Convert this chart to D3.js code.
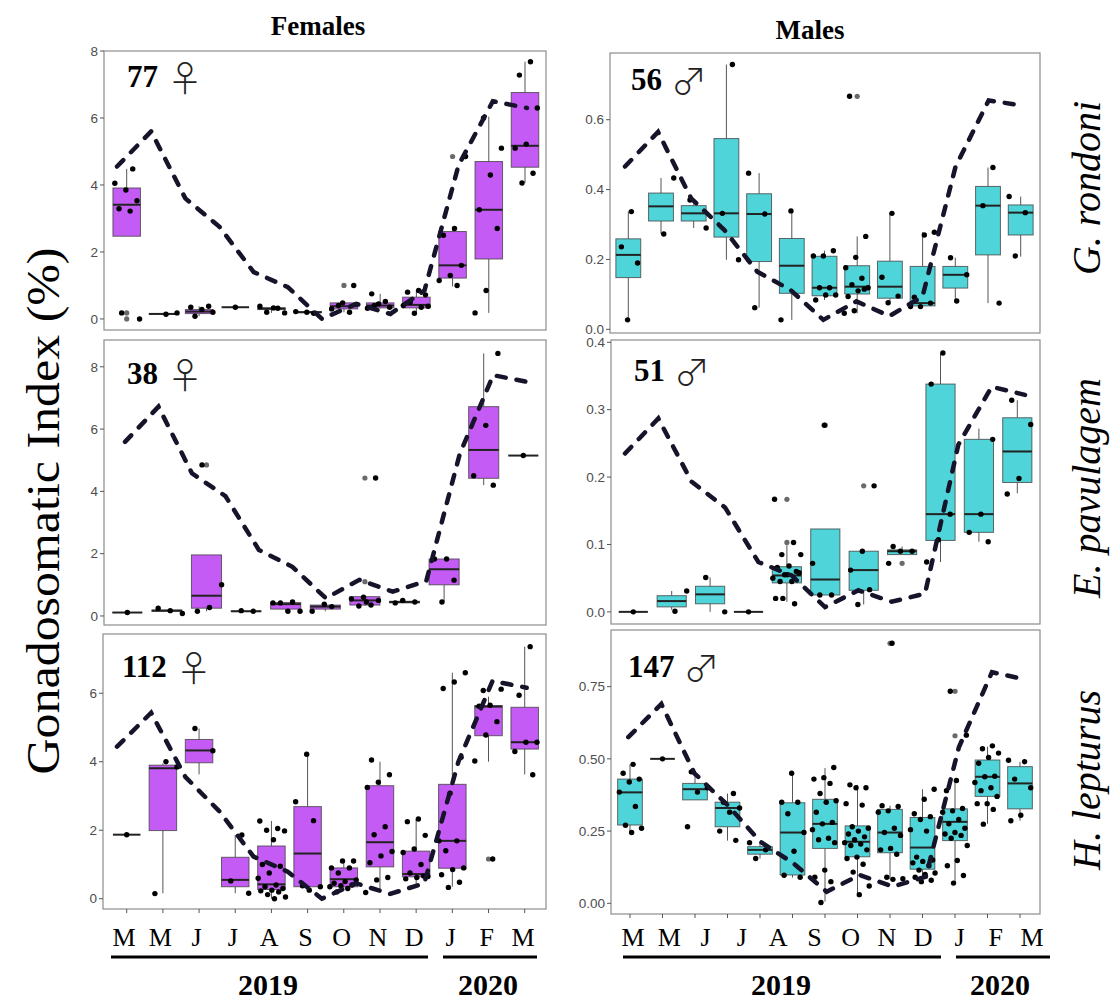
<!DOCTYPE html>
<html>
<head>
<meta charset="utf-8">
<script src="https://cdn.jsdelivr.net/npm/d3@7"></script>
<style>
  body { margin: 0; background: #fff; }
  svg { display: block; }
</style>
</head>
<body>
<svg id="chart" width="1115" height="1000"></svg>
<script>
// ---- data ----
// box stats per month: [lower whisker, q1, median, q3, upper whisker]
var grFemBox = [[2.47,2.47,3.41,3.91,4.48],[0.14,0.14,0.15,0.16,0.18],[0.08,0.16,0.22,0.28,0.38],[0.35,0.35,0.35,0.35,0.35],
  [0.18,0.28,0.31,0.33,0.38],[0.17,0.19,0.2,0.22,0.22],[0.2,0.3,0.38,0.48,0.48],[0.32,0.33,0.4,0.48,0.75],
  [0.17,0.33,0.42,0.65,0.85],[0.97,1.22,1.6,2.61,2.71],[0.18,1.79,3.26,4.7,6.04],[4.06,4.53,5.17,6.76,7.68]];
var grFemPts = [[3.22,3.29,3.53,3.85,4.05,4.48,0.18,0.0],[0.18,0.14],[0.08,0.2,0.28,0.35,0.38],[0.35],
  [0.38,0.32,0.2,0.18,0.33],[0.2,0.22,0.17],[1.0,0.48,0.3,0.2,0.4],[0.75,0.35,0.45,0.32,0.52,0.4],
  [0.85,0.8,0.72,0.17,0.4,0.35,0.5,0.38],[4.85,2.7,2.5,1.6,1.3,1.15,1.0],[6.0,5.1,4.3,3.26,2.7,0.85,0.18],
  [7.68,7.28,6.3,5.22,5.1,4.35,4.06]];
var grFemOut = [[0.18,0.0],[],[],[],[],[],[1.0],[],[],[4.85],[],[]];
var grFemLine = [4.55,5.6,3.6,2.75,1.4,0.95,0.0,0.45,0.15,0.85,4.6,6.5,6.3];

var grMalBox = [[0.027,0.148,0.213,0.259,0.337],[0.273,0.31,0.352,0.39,0.433],[0.29,0.31,0.332,0.354,0.37],
  [0.199,0.264,0.332,0.546,0.758],[0.062,0.194,0.33,0.388,0.447],[0.027,0.103,0.182,0.26,0.339],
  [0.084,0.096,0.119,0.209,0.225],[0.046,0.101,0.122,0.182,0.266],[0.076,0.089,0.122,0.195,0.332],
  [0.065,0.067,0.075,0.18,0.278],[0.081,0.118,0.156,0.18,0.205],[0.075,0.213,0.354,0.409,0.463],
  [0.208,0.27,0.334,0.356,0.38]];
var grMalPts = [[0.337,0.236,0.19,0.027],[0.433,0.273],[0.37,0.29],[0.758,0.332,0.199],[0.447,0.33,0.062],
  [0.339,0.027],[0.225,0.21,0.21,0.119,0.119,0.098,0.098,0.084],
  [0.667,0.266,0.206,0.176,0.146,0.128,0.119,0.11,0.094,0.115,0.053,0.046],[0.332,0.149,0.095,0.076],
  [0.278,0.27,0.092,0.075,0.065,0.065],[0.205,0.156,0.081],[0.463,0.354,0.075],[0.38,0.334,0.21]];
var grMalOut = [[],[],[],[],[],[],[],[0.667],[],[],[],[],[]];
var grMalLine = [0.466,0.565,0.375,0.285,0.165,0.113,0.027,0.08,0.038,0.094,0.466,0.655,0.641];

var epFemBox = [[0.11,0.11,0.11,0.11,0.11],[0.15,0.15,0.17,0.19,0.2],[0.15,0.25,0.65,1.96,1.96],[0.15,0.15,0.15,0.16,0.17],
  [0.15,0.22,0.38,0.43,0.45],[0.15,0.22,0.3,0.35,0.38],[0.32,0.35,0.5,0.62,0.62],[0.42,0.42,0.45,0.47,0.5],
  [0.45,1.0,1.5,1.83,1.83],[4.2,4.42,5.33,6.72,8.43],[5.15,5.15,5.15,5.15,5.15]];
var epFemPts = [[0.11],[0.08,0.17,0.25],[4.85,1.0,0.27,0.15],[0.15,0.17],[0.42,0.45,0.42,0.15,0.15],[0.38,0.15,0.3],
  [4.43,0.6,0.55,0.35,0.32,0.5,0.45],[0.42,0.45,0.5],[1.83,1.83,1.15,0.45],[8.43,6.12,4.5,4.2],[5.15]];
var epFemOut = [[],[],[4.85],[],[],[],[1.1,4.43],[],[],[],[]];
var epFemLine = [5.59,6.72,4.58,3.85,2.12,1.58,0.57,1.16,0.78,1.12,5.2,7.73,7.52];

var epMalBox = [[0,0,0,0,0],[0.003,0.0074,0.016,0.024,0.031],[0.0,0.012,0.026,0.038,0.051],[0,0,0,0,0],
  [0.015,0.043,0.054,0.067,0.099],[0.025,0.025,0.048,0.123,0.123],[0.011,0.032,0.062,0.09,0.09],
  [0.085,0.085,0.09,0.092,0.097],[0.074,0.106,0.145,0.338,0.384],[0.104,0.118,0.145,0.256,0.272],
  [0.176,0.192,0.238,0.288,0.314]];
var epMalPts = [[0],[0.031,0.001],[0.051,0.0],[0],
  [0.167,0.103,0.085,0.085,0.068,0.066,0.06,0.055,0.05,0.045,0.045,0.058,0.055,0.02,0.012,0.02],
  [0.277,0.072,0.025,0.025],[0.187,0.09,0.062,0.033,0.011],[0.097,0.09,0.09,0.072],
  [0.384,0.338,0.145,0.107,0.074],[0.256,0.145,0.118,0.104],[0.314,0.278,0.198,0.175]];
var epMalOut = [[],[],[],[],[0.167,0.103],[0.277],[0.187],[0.072],[],[],[]];
var epMalLine = [0.235,0.287,0.193,0.155,0.074,0.054,0.007,0.032,0.015,0.027,0.248,0.334,0.322];

var hlFemBox = [[1.87,1.87,1.87,1.87,1.87],[0.16,1.99,3.81,3.9,3.95],[3.63,3.97,4.33,4.65,4.97],[0.16,0.35,0.55,1.21,1.86],
  [0.0,0.27,0.42,1.54,2.27],[0.27,0.35,1.32,2.69,4.22],[0.23,0.35,0.57,0.9,1.11],[0.2,0.93,1.65,3.3,4.0],
  [0.35,0.64,0.72,1.39,2.33],[0.35,0.89,1.69,3.34,6.6],[4.0,4.76,5.61,5.64,5.9],[3.63,4.37,4.57,5.59,7.36]];
var hlFemPts = [[1.87],[3.85,4.0,0.15],[4.97,4.32],[1.86,0.52,0.16],
  [2.27,2.05,2.0,1.98,1.72,1.0,0.95,0.75,0.6,0.4,0.35,0.3,0.25,0.23,0.2,0.12,0.05,0.0],
  [4.22,2.83,2.28,0.38,0.35,0.25],[1.1,1.1,0.9,0.9,0.75,0.55,0.5,0.45,0.4,0.38,0.35,0.3,0.2],
  [4.05,3.62,3.4,3.25,2.1,1.87,1.38,1.25,1.05,0.62,0.55,0.18],[2.33,2.25,1.85,1.45,1.35,1.0,0.75,0.65,0.62,0.58,0.66],
  [6.6,6.33,6.14,4.13,3.08,1.69,1.69,1.4,0.9,0.85,0.7,0.48,0.33],[6.08,6.12,5.65,5.62,5.17,4.78,4.02,1.16],
  [7.36,5.94,4.57,4.57,4.3,3.62]];
var hlFemOut = [[],[],[],[],[],[],[],[],[],[],[1.16],[]];
var hlFemLine = [4.44,5.43,3.56,2.55,1.23,0.79,0.0,0.45,0.14,0.45,4.0,6.36,6.16];

var hlMalBox = [[0.245,0.271,0.384,0.43,0.481],[0.5,0.5,0.5,0.5,0.5],[0.358,0.358,0.395,0.415,0.455],
  [0.217,0.265,0.33,0.35,0.38],[0.155,0.17,0.185,0.196,0.21],[0.089,0.098,0.245,0.348,0.448],
  [0.006,0.19,0.275,0.36,0.468],[0.029,0.161,0.213,0.268,0.41],[0.083,0.175,0.245,0.325,0.338],
  [0.075,0.118,0.193,0.297,0.395],[0.069,0.217,0.282,0.327,0.421],[0.275,0.37,0.438,0.496,0.542],
  [0.286,0.327,0.415,0.473,0.49]];
var hlMalPts = [[0.481,0.45,0.43,0.42,0.385,0.335,0.27,0.26,0.245],[0.5],[0.455,0.4,0.385,0.265],
  [0.38,0.35,0.33,0.315,0.25,0.218],[0.21,0.185,0.155],[0.45,0.35,0.35,0.31,0.245,0.18,0.097,0.09],
  [0.47,0.435,0.43,0.415,0.38,0.355,0.35,0.315,0.28,0.275,0.255,0.225,0.22,0.21,0.115,0.09,0.075,0.003],
  [0.41,0.4,0.4,0.345,0.34,0.265,0.26,0.25,0.24,0.23,0.22,0.21,0.205,0.2,0.185,0.16,0.155,0.135,0.108,0.06,0.03],
  [0.9,0.338,0.335,0.32,0.315,0.26,0.245,0.235,0.19,0.185,0.17,0.09,0.085,0.083],
  [0.395,0.36,0.31,0.3,0.29,0.255,0.25,0.16,0.15,0.145,0.14,0.13,0.115,0.105,0.1,0.09,0.08,0.075],
  [0.734,0.582,0.425,0.39,0.328,0.32,0.315,0.29,0.275,0.26,0.245,0.24,0.235,0.225,0.2,0.148,0.13,0.096,0.07],
  [0.545,0.535,0.52,0.505,0.485,0.44,0.438,0.418,0.4,0.39,0.37,0.345,0.345,0.325,0.274],
  [0.495,0.49,0.43,0.4,0.305,0.286]];
var hlMalOut = [[],[],[],[],[],[],[],[],[0.9],[],[0.734,0.58],[],[]];
var hlMalLine = [0.575,0.69,0.45,0.34,0.213,0.138,0.04,0.098,0.058,0.092,0.54,0.8,0.775];

var monthLetters = ["M","M","J","J","A","S","O","N","D","J","F","M"];
var years = ["2019", "2020"];
var species = ["G. rondoni", "E. pavulagem", "H. lepturus"];
var femTicks = [0, 2, 4, 6, 8];
var femTicksLow = [0, 2, 4, 6];
var malTicks1 = [0, 0.2, 0.4, 0.6];
var malTicks2 = [0, 0.1, 0.2, 0.3, 0.4];
var malTicks3 = [0, 0.25, 0.5, 0.75];

var femaleFill = "#c45bf5";
var maleFill = "#4fd5d9";

// panel layout: frame, y domain, where the first/last box and the dashed line sit
var panels = [
  {box: grFemBox, pts: grFemPts, out: grFemOut, line: grFemLine, fill: femaleFill, ticks: femTicks, fmt: "d",
   x0: 104, x1: 546, y0: 51, y1: 330, dom: [-0.33, 8.0], c0: 126.7, c1: 525, l0: 117, l1: 527,
   n: "77", sym: "\u2640", tx: 127, ty: 87, xticks: false},
  {box: grMalBox, pts: grMalPts, out: grMalOut, line: grMalLine, fill: maleFill, ticks: malTicks1, fmt: ".1f",
   x0: 610, x1: 1040, y0: 53, y1: 333, dom: [-0.0106, 0.791], c0: 628.3, c1: 1020.7, l0: 625, l1: 1021.7,
   n: "56", sym: "\u2642", tx: 631, ty: 90, xticks: false},
  {box: epFemBox, pts: epFemPts, out: epFemOut, line: epFemLine, fill: femaleFill, ticks: femTicks, fmt: "d",
   x0: 104, x1: 546, y0: 340, y1: 625, dom: [-0.29, 8.86], c0: 127.3, c1: 523.3, l0: 125, l1: 526.7,
   n: "38", sym: "\u2640", tx: 127, ty: 384, xticks: false},
  {box: epMalBox, pts: epMalPts, out: epMalOut, line: epMalLine, fill: maleFill, ticks: malTicks2, fmt: ".1f",
   x0: 611, x1: 1040, y0: 340, y1: 624, dom: [-0.018, 0.4034], c0: 633.3, c1: 1017.3, l0: 625, l1: 1025,
   n: "51", sym: "\u2642", tx: 634, ty: 381, xticks: false},
  {box: hlFemBox, pts: hlFemPts, out: hlFemOut, line: hlFemLine, fill: femaleFill, ticks: femTicksLow, fmt: "d",
   x0: 103, x1: 546, y0: 634, y1: 909, dom: [-0.3, 7.73], c0: 126.7, c1: 524.7, l0: 117, l1: 526.7,
   n: "112", sym: "\u2640", tx: 122, ty: 677, xticks: true},
  {box: hlMalBox, pts: hlMalPts, out: hlMalOut, line: hlMalLine, fill: maleFill, ticks: malTicks3, fmt: ".2f",
   x0: 611, x1: 1040, y0: 630, y1: 914, dom: [-0.037, 0.946], c0: 630, c1: 1020, l0: 628.3, l1: 1025,
   n: "147", sym: "\u2642", tx: 628, ty: 677, xticks: true}
];

var svg = d3.select("#chart");
var serif = "'Liberation Serif', 'Times New Roman', serif";

panels.forEach(function(p){
  var g = svg.append("g");
  var idx = d3.range(p.box.length);
  var x = d3.scalePoint().domain(idx).range([p.c0, p.c1]);
  var step = x.step();
  var bw = step * 0.76;
  var y = d3.scaleLinear().domain(p.dom).range([p.y1, p.y0]);
  var xl = d3.scalePoint().domain(d3.range(p.line.length)).range([p.l0, p.l1]);

  // frame
  g.append("rect").attr("x", p.x0).attr("y", p.y0)
    .attr("width", p.x1 - p.x0).attr("height", p.y1 - p.y0)
    .attr("fill", "none").attr("stroke", "#8c8c8c").attr("stroke-width", 1.2);

  // y axis ticks + labels
  var f = d3.format(p.fmt);
  p.ticks.forEach(function(t){
    g.append("line").attr("x1", p.x0 - 4).attr("x2", p.x0)
      .attr("y1", y(t)).attr("y2", y(t)).attr("stroke", "#555");
    g.append("text").attr("x", p.x0 - 6).attr("y", y(t)).attr("dy", "0.35em")
      .attr("text-anchor", "end").attr("font-family", "'Liberation Sans', Arial, sans-serif")
      .attr("font-size", 13.5).attr("fill", "#4d4d4d").text(f(t));
  });

  if(p.xticks){
    idx.forEach(function(i){
      g.append("line").attr("x1", x(i)).attr("x2", x(i))
        .attr("y1", p.y1).attr("y2", p.y1 + 4).attr("stroke", "#555");
    });
  }

  // boxes
  p.box.forEach(function(b, i){
    var cx = x(i);
    g.append("line").attr("x1", cx).attr("x2", cx).attr("y1", y(b[0])).attr("y2", y(b[1]))
      .attr("stroke", "#555").attr("stroke-width", 1);
    g.append("line").attr("x1", cx).attr("x2", cx).attr("y1", y(b[3])).attr("y2", y(b[4]))
      .attr("stroke", "#555").attr("stroke-width", 1);
    if(b[3] > b[1]){
      g.append("rect").attr("x", cx - bw/2).attr("y", y(b[3]))
        .attr("width", bw).attr("height", y(b[1]) - y(b[3]))
        .attr("fill", p.fill).attr("stroke", "#444").attr("stroke-opacity", 0.8).attr("stroke-width", 1);
    }
    g.append("line").attr("x1", cx - bw/2).attr("x2", cx + bw/2)
      .attr("y1", y(b[2])).attr("y2", y(b[2]))
      .attr("stroke", "#222").attr("stroke-width", 2);
  });

  // outliers (grey, on the centre line)
  p.out.forEach(function(arr, i){
    arr.forEach(function(v){
      g.append("circle").attr("cx", x(i)).attr("cy", y(v)).attr("r", 2.6).attr("fill", "#6a6a6a");
    });
  });

  // jittered raw points
  p.pts.forEach(function(arr, i){
    arr.forEach(function(v, k){
      var off = (((k + 1) * 0.618034 + i * 0.37) % 1 - 0.5) * 0.8 * step;
      if(arr.length == 1) off = 0;
      g.append("circle").attr("cx", x(i) + off).attr("cy", y(v)).attr("r", 2.7).attr("fill", "#000");
    });
  });

  // dashed monthly line
  var line = d3.line().x(function(d, i){ return xl(i); }).y(function(d){ return y(d); });
  g.append("path").datum(p.line).attr("d", line)
    .attr("fill", "none").attr("stroke", "#16142a").attr("stroke-width", 4.5)
    .attr("stroke-linecap", "round").attr("stroke-dasharray", "9,11");

  // sample size + sex symbol
  var num = g.append("text").attr("x", p.tx).attr("y", p.ty)
    .attr("font-family", serif).attr("font-weight", "bold").attr("font-size", 31).text(p.n);
  var w = num.node().getComputedTextLength();
  g.append("text").attr("x", p.tx + w + 9).attr("y", p.ty + 5)
    .attr("font-family", "'Noto Sans CJK JP', 'DejaVu Sans', sans-serif")
    .attr("font-weight", 200).attr("font-size", 36).attr("fill", "#222").text(p.sym);
});

// column titles
svg.append("text").attr("x", 318).attr("y", 35).attr("text-anchor", "middle")
  .attr("font-family", serif).attr("font-weight", "bold").attr("font-size", 27).text("Females");
svg.append("text").attr("x", 810).attr("y", 39).attr("text-anchor", "middle")
  .attr("font-family", serif).attr("font-weight", "bold").attr("font-size", 27).text("Males");

// y axis title
svg.append("text").attr("transform", "translate(59,511) rotate(-90)").attr("text-anchor", "middle")
  .attr("font-family", serif).attr("font-size", 46)
  .attr("textLength", 527).attr("lengthAdjust", "spacingAndGlyphs")
  .text("Gonadosomatic  Index  (%)");

// species labels on the right
var speciesY = [188, 488, 780];
species.forEach(function(s, i){
  svg.append("text").attr("transform", "translate(1100," + speciesY[i] + ") rotate(-90)")
    .attr("text-anchor", "middle").attr("font-family", serif).attr("font-style", "italic")
    .attr("font-size", 40).text(s);
});

// month letters, year bars and years under each column
var cols = [
  {m0: 124, m1: 523, bars: [[111, 428], [443, 537]], yx: [268, 488]},
  {m0: 633, m1: 1032, bars: [[623, 941], [956, 1050]], yx: [781, 1000]}
];
cols.forEach(function(c){
  var xm = d3.scalePoint().domain(d3.range(monthLetters.length)).range([c.m0, c.m1]);
  monthLetters.forEach(function(m, i){
    svg.append("text").attr("x", xm(i)).attr("y", 946).attr("text-anchor", "middle")
      .attr("font-family", serif).attr("font-size", 26).text(m);
  });
  c.bars.forEach(function(b){
    svg.append("line").attr("x1", b[0]).attr("x2", b[1]).attr("y1", 957).attr("y2", 957)
      .attr("stroke", "#000").attr("stroke-width", 3);
  });
  years.forEach(function(yr, i){
    svg.append("text").attr("x", c.yx[i]).attr("y", 995).attr("text-anchor", "middle")
      .attr("font-family", serif).attr("font-weight", "bold").attr("font-size", 30).text(yr);
  });
});
</script>
</body>
</html>
